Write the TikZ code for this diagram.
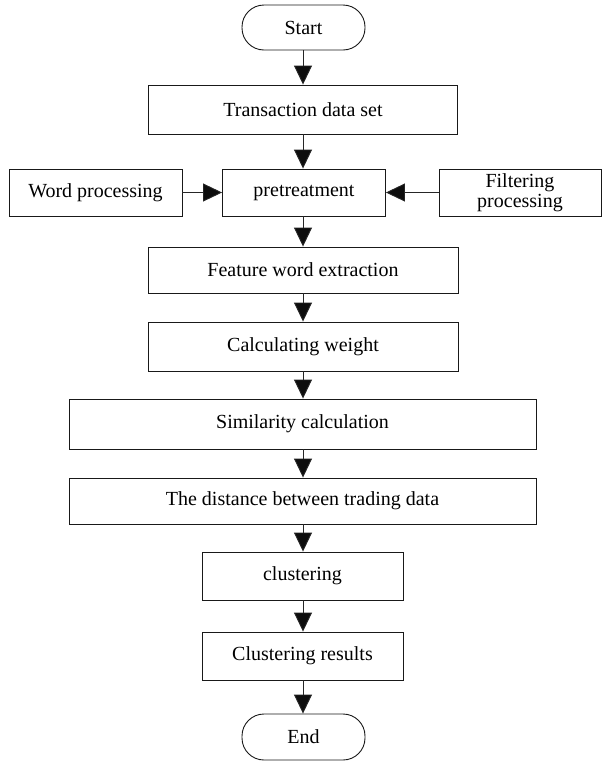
\documentclass[tikz,border=0pt]{standalone}
\usepackage{fontspec}
\setmainfont{Liberation Serif}
\usetikzlibrary{arrows.meta}
\tikzset{
  box/.style={draw=black!90, line width=0.9pt, inner sep=0pt, align=center,
    font=\fontsize{20}{22}\selectfont},
  term/.style={box, rounded corners=22pt},
  arr/.style={draw=black!85, line width=0.9pt, -{Triangle[length=19pt,width=18pt,fill=black!95]}}
}
\begin{document}
\begin{tikzpicture}[x=1pt,y=1pt]
\useasboundingbox (0,0) rectangle (602,-761);
\node[term, minimum width=123pt, minimum height=45pt] (start) at (303.5,-27.5) {Start};
\node[box, minimum width=309pt, minimum height=49pt] (trans) at (303,-109.5) {Transaction data set};
\node[box, minimum width=163pt, minimum height=47pt] (pre) at (304,-192.5) {pretreatment};
\node[box, minimum width=173pt, minimum height=47pt] (word) at (95.5,-192.5) {Word processing};
\node[box, minimum width=162pt, minimum height=47pt] (filt) at (520,-192.5) {Filtering\\[-2pt]processing};
\node[box, minimum width=310pt, minimum height=46pt] (feat) at (303,-270) {Feature word extraction};
\node[box, minimum width=310pt, minimum height=49pt] (calc) at (303,-346.5) {Calculating weight};
\node[box, minimum width=467pt, minimum height=50pt] (sim) at (302.5,-424) {Similarity calculation};
\node[box, minimum width=467pt, minimum height=46pt] (dist) at (302.5,-501) {The distance between trading data};
\node[box, minimum width=201pt, minimum height=48pt] (clus) at (302.5,-576) {clustering};
\node[box, minimum width=201pt, minimum height=48pt] (res) at (302.5,-656) {Clustering results};
\node[term, minimum width=123pt, minimum height=46pt] (end) at (303.5,-737) {End};
\draw[arr] (start.south -| 303,0) -- (trans.north -| 303,0);
\draw[arr] (trans.south -| 303,0) -- (pre.north -| 303,0);
\draw[arr] (word.east) -- (pre.west);
\draw[arr] (filt.west) -- (pre.east);
\draw[arr] (pre.south -| 303,0) -- (feat.north -| 303,0);
\draw[arr] (feat.south -| 303,0) -- (calc.north -| 303,0);
\draw[arr] (calc.south -| 303,0) -- (sim.north -| 303,0);
\draw[arr] (sim.south -| 303,0) -- (dist.north -| 303,0);
\draw[arr] (dist.south -| 303,0) -- (clus.north -| 303,0);
\draw[arr] (clus.south -| 303,0) -- (res.north -| 303,0);
\draw[arr] (res.south -| 303,0) -- (end.north -| 303,0);
\end{tikzpicture}
\end{document}
